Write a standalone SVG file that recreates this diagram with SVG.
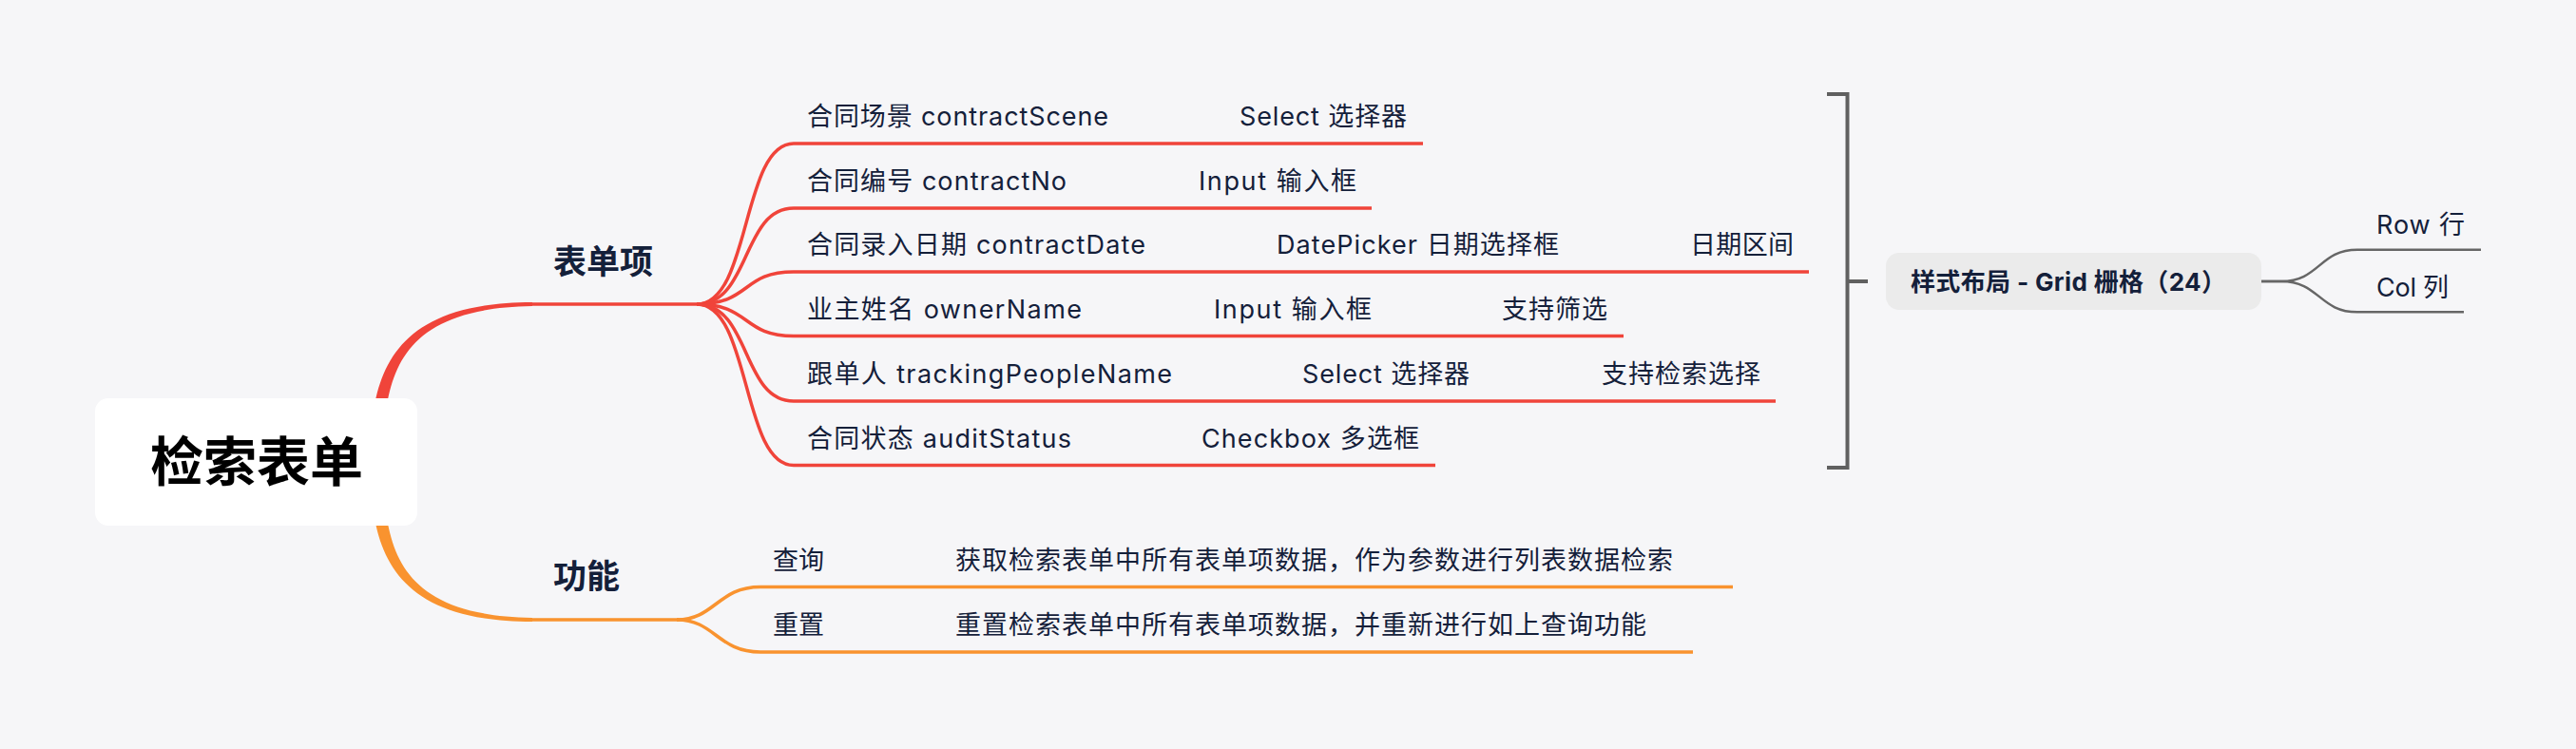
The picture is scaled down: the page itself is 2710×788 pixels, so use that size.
<svg xmlns="http://www.w3.org/2000/svg" width="2710" height="788" viewBox="0 0 2710 788">
<style>
text{font-family:Inter,"Noto Sans CJK SC",sans-serif;fill:#14203A}
.root{font-size:56px;font-weight:700;fill:#000}
.l1{font-size:35px;font-weight:700}
.l2{font-size:27px}
.grid{font-size:26px;font-weight:700}
.red{fill:none;stroke:#F0443A;stroke-width:3.5;stroke-linecap:butt}
.org{fill:none;stroke:#F9932F;stroke-width:3.5}
.gray{fill:none;stroke:#666;stroke-width:2.5}
.bracket{fill:none;stroke:#606060;stroke-width:4}
</style>
<rect width="2710" height="788" fill="#F6F6F8"/>
<g id="connectors">
<path d="M391.5,444 C399,378 428,318 560,318 L560,322 C432,324 411,382 404.5,446 Z" fill="#F0443A"/>
<path d="M558,320 H735" class="red" stroke-width="4"/>
<path d="M391.5,528 C399,594 428,654 560,654 L560,650 C432,648 411,590 404.5,526 Z" fill="#F9932F"/>
<path d="M558,652 H714" class="org" stroke-width="4"/>
<path class="red" d="M733,320 C790,320 780,151 835,151 H1497"/>
<path class="red" d="M733,320 C790,320 780,219 835,219 H1443"/>
<path class="red" d="M733,320 C790,320 780,286 835,286 H1903"/>
<path class="red" d="M733,320 C790,320 780,353.5 835,353.5 H1708"/>
<path class="red" d="M733,320 C790,320 780,422 835,422 H1868"/>
<path class="red" d="M733,320 C790,320 780,489.5 835,489.5 H1510"/>
<path class="org" d="M712,652 C752,652 755,617.5 800,617.5 H1823"/>
<path class="org" d="M712,652 C752,652 755,686 800,686 H1781"/>
<path class="bracket" d="M1922,99 H1943.5 V492 H1922 M1943.5,296 H1965"/>
<path class="gray" d="M2379,296 H2400 C2440,296 2440,262.7 2480,262.7 H2610"/>
<path class="gray" d="M2379,296 H2400 C2440,296 2440,328.3 2480,328.3 H2592"/>
</g>
<g id="root">
<rect x="100" y="419" width="339" height="134" rx="14" fill="#fff"/>
<text class="root" x="270" y="506" text-anchor="middle">检索表单</text>
</g>
<g id="n-form"><text class="l1" x="582" y="288">表单项</text></g>
<g id="n-func"><text class="l1" x="582" y="619">功能</text></g>
<g id="n-r1">
<text class="l2" x="849" y="132" textLength="317" lengthAdjust="spacing">合同场景 contractScene</text>
<text class="l2" x="1304" y="132" textLength="176" lengthAdjust="spacing">Select 选择器</text>
</g>
<g id="n-r2">
<text class="l2" x="849" y="200" textLength="273" lengthAdjust="spacing">合同编号 contractNo</text>
<text class="l2" x="1261" y="200" textLength="166" lengthAdjust="spacing">Input 输入框</text>
</g>
<g id="n-r3">
<text class="l2" x="849" y="267" textLength="356" lengthAdjust="spacing">合同录入日期 contractDate</text>
<text class="l2" x="1343" y="267" textLength="297" lengthAdjust="spacing">DatePicker 日期选择框</text>
<text class="l2" x="1778" y="267" textLength="109" lengthAdjust="spacing">日期区间</text>
</g>
<g id="n-r4">
<text class="l2" x="849" y="334.5" textLength="289" lengthAdjust="spacing">业主姓名 ownerName</text>
<text class="l2" x="1277" y="334.5" textLength="166" lengthAdjust="spacing">Input 输入框</text>
<text class="l2" x="1580" y="334.5" textLength="111" lengthAdjust="spacing">支持筛选</text>
</g>
<g id="n-r5">
<text class="l2" x="849" y="403" textLength="384" lengthAdjust="spacing">跟单人 trackingPeopleName</text>
<text class="l2" x="1370" y="403" textLength="176" lengthAdjust="spacing">Select 选择器</text>
<text class="l2" x="1685" y="403" textLength="167" lengthAdjust="spacing">支持检索选择</text>
</g>
<g id="n-r6">
<text class="l2" x="849" y="470.5" textLength="278" lengthAdjust="spacing">合同状态 auditStatus</text>
<text class="l2" x="1264" y="470.5" textLength="229" lengthAdjust="spacing">Checkbox 多选框</text>
</g>
<g id="n-query">
<text class="l2" x="813" y="599" textLength="54" lengthAdjust="spacing">查询</text>
<text class="l2" x="1005" y="599" textLength="755" lengthAdjust="spacing">获取检索表单中所有表单项数据，作为参数进行列表数据检索</text>
</g>
<g id="n-reset">
<text class="l2" x="813" y="667" textLength="54" lengthAdjust="spacing">重置</text>
<text class="l2" x="1005" y="667" textLength="727" lengthAdjust="spacing">重置检索表单中所有表单项数据，并重新进行如上查询功能</text>
</g>
<g id="n-grid">
<rect x="1984" y="266" width="395" height="60" rx="14" fill="#EBEBEB"/>
<text class="grid" x="2010" y="306" textLength="332" lengthAdjust="spacing">样式布局 - Grid 栅格（24）</text>
</g>
<g id="n-row"><text class="l2" x="2500" y="246" textLength="93" lengthAdjust="spacing">Row 行</text></g>
<g id="n-col"><text class="l2" x="2500" y="312" textLength="76" lengthAdjust="spacing">Col 列</text></g>
</svg>
